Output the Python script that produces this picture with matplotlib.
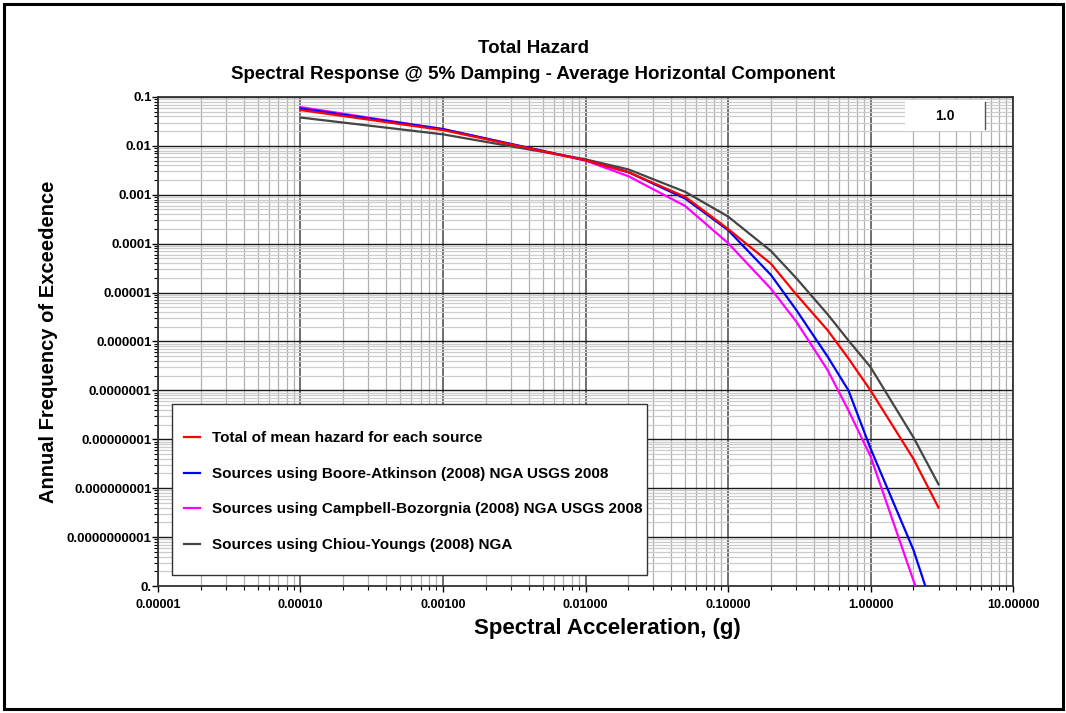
"""
Total hazard curves: spectral response @ 5% damping, average horizontal component.
"""
import matplotlib.pyplot as plt
from matplotlib.patches import Rectangle
from matplotlib.ticker import LogLocator, NullFormatter

plt.rcParams["font.family"] = ["Liberation Sans", "DejaVu Sans"]

# spectral acceleration (g)
sa = [0.0001, 0.001, 0.01, 0.02, 0.05, 0.1, 0.2, 0.3, 0.5, 0.7, 1.0, 2.0, 3.0]

# annual frequency of exceedence per source model
total = [0.054, 0.021, 0.0051, 0.0029, 0.00091, 2.0e-4, 3.9e-5, 9.3e-6,
         1.7e-6, 4.5e-7, 1.0e-7, 4.0e-9, 4.0e-10]
boore = [0.058, 0.022, 0.0051, 0.0029, 0.00084, 1.9e-4, 2.3e-5, 4.5e-6,
         4.9e-7, 1.0e-7, 6.5e-9, 5.5e-11, 1.5e-12]
campbell = [0.062, 0.022, 0.0050, 0.0024, 0.00059, 1.03e-4, 1.2e-5, 2.6e-6,
            2.6e-7, 3.9e-8, 4.5e-9, 1.3e-11, 5.0e-13]
chiou = [0.038, 0.0172, 0.0053, 0.0033, 0.00115, 3.6e-4, 7.1e-5, 2.0e-5,
         3.6e-6, 1.05e-6, 3.0e-7, 1.1e-8, 1.2e-9]

labels = [
    "Total of mean hazard for each source",
    "Sources using Boore-Atkinson (2008) NGA USGS 2008",
    "Sources using Campbell-Bozorgnia (2008) NGA USGS 2008",
    "Sources using Chiou-Youngs (2008) NGA",
]
colors = ["#ff0000", "#0000ff", "#ff00ff", "#444444"]

xticks = [1e-5, 1e-4, 1e-3, 1e-2, 1e-1, 1, 10]
xticklabels = ["0.00001", "0.00010", "0.00100", "0.01000", "0.10000",
               "1.00000", "10.00000"]
yticks = [1e-11, 1e-10, 1e-9, 1e-8, 1e-7, 1e-6, 1e-5, 1e-4, 1e-3, 1e-2, 1e-1]
yticklabels = ["0.", "0.0000000001", "0.000000001", "0.00000001", "0.0000001",
               "0.000001", "0.00001", "0.0001", "0.001", "0.01", "0.1"]

fig = plt.figure(figsize=(10.66, 7.13), dpi=100)
ax = fig.add_axes([0.1482, 0.1781, 0.8021, 0.6859])

series = [total, boore, campbell, chiou]
zorders = [5, 4, 3, 2]
handles = []
for vals, lab, col, z in zip(series, labels, colors, zorders):
    h, = ax.plot(sa, vals, color=col, lw=1.6, label=lab, zorder=z)
    handles.append(h)

ax.set_xscale("log")
ax.set_yscale("log")
ax.set_xlim(1e-5, 10)
ax.set_ylim(1e-11, 0.1)

ax.set_xticks(xticks)
ax.set_xticklabels(xticklabels, fontsize=9, fontweight="bold")
ax.set_yticks(yticks)
ax.set_yticklabels(yticklabels, fontsize=9.5, fontweight="bold")
ax.xaxis.set_minor_locator(LogLocator(base=10, subs=range(2, 10), numticks=20))
ax.yaxis.set_minor_locator(LogLocator(base=10, subs=range(2, 10), numticks=20))
ax.xaxis.set_minor_formatter(NullFormatter())
ax.yaxis.set_minor_formatter(NullFormatter())
ax.tick_params(which="major", direction="out", length=4, width=1)
ax.tick_params(which="minor", direction="out", length=3, width=0.8)
ax.tick_params(axis="x", which="major", pad=5)
ax.tick_params(axis="y", which="major", pad=0.5)

ax.set_axisbelow(True)
ax.grid(which="major", axis="x", color="#555555", lw=1.2)
ax.grid(which="major", axis="y", color="#1a1a1a", lw=1.0)
ax.grid(which="minor", axis="x", color="#b0b0b0", lw=0.9)
ax.grid(which="minor", axis="y", color="#cccccc", lw=0.9)
for sp in ax.spines.values():
    sp.set_color("#333333")
    sp.set_linewidth(1.3)

ax.set_xlabel("Spectral Acceleration, (g)", fontsize=16, fontweight="bold")
ax.xaxis.set_label_coords(0.526, -0.066)
ax.set_ylabel("Annual Frequency of Exceedence", fontsize=14.5,
              fontweight="bold")
ax.yaxis.set_label_coords(-0.117, 0.5)
fig.text(0.5, 0.932, "Total Hazard", ha="center", va="center",
         fontsize=13.5, fontweight="bold")
fig.text(0.5, 0.896,
         "Spectral Response @ 5% Damping - Average Horizontal Component",
         ha="center", va="center", fontsize=13.5, fontweight="bold")

# legend box
ax.add_patch(Rectangle((0.0164, 0.0225), 0.5556, 0.3497, transform=ax.transAxes,
                       facecolor="white", edgecolor="#333333", lw=1.0,
                       zorder=6, clip_on=False))
leg = ax.legend(handles=handles, loc="center left",
                bbox_to_anchor=(0.0304, 0.193), frameon=False, borderpad=0,
                borderaxespad=0, handlelength=1.05, handletextpad=0.8,
                labelspacing=1.41, prop={"weight": "bold", "size": 11})
leg.set_zorder(7)

# "1.0" tag box
ax.add_patch(Rectangle((0.8737, 0.9305), 0.0936, 0.0634, transform=ax.transAxes,
                       facecolor="white", edgecolor="none", zorder=6))
ax.plot([0.9673, 0.9673], [0.934, 0.990], transform=ax.transAxes,
        color="#555555", lw=1.0, zorder=7)
ax.text(0.9205, 0.961, "1.0", transform=ax.transAxes, ha="center",
        va="center", fontsize=10, fontweight="bold", zorder=8)

# outer frame
fig.patches.append(Rectangle((0.00375, 0.0056), 0.9934, 0.9888,
                             transform=fig.transFigure, fill=False,
                             edgecolor="black", lw=2.2))

fig.savefig("out.png", dpi=100, facecolor="white")
